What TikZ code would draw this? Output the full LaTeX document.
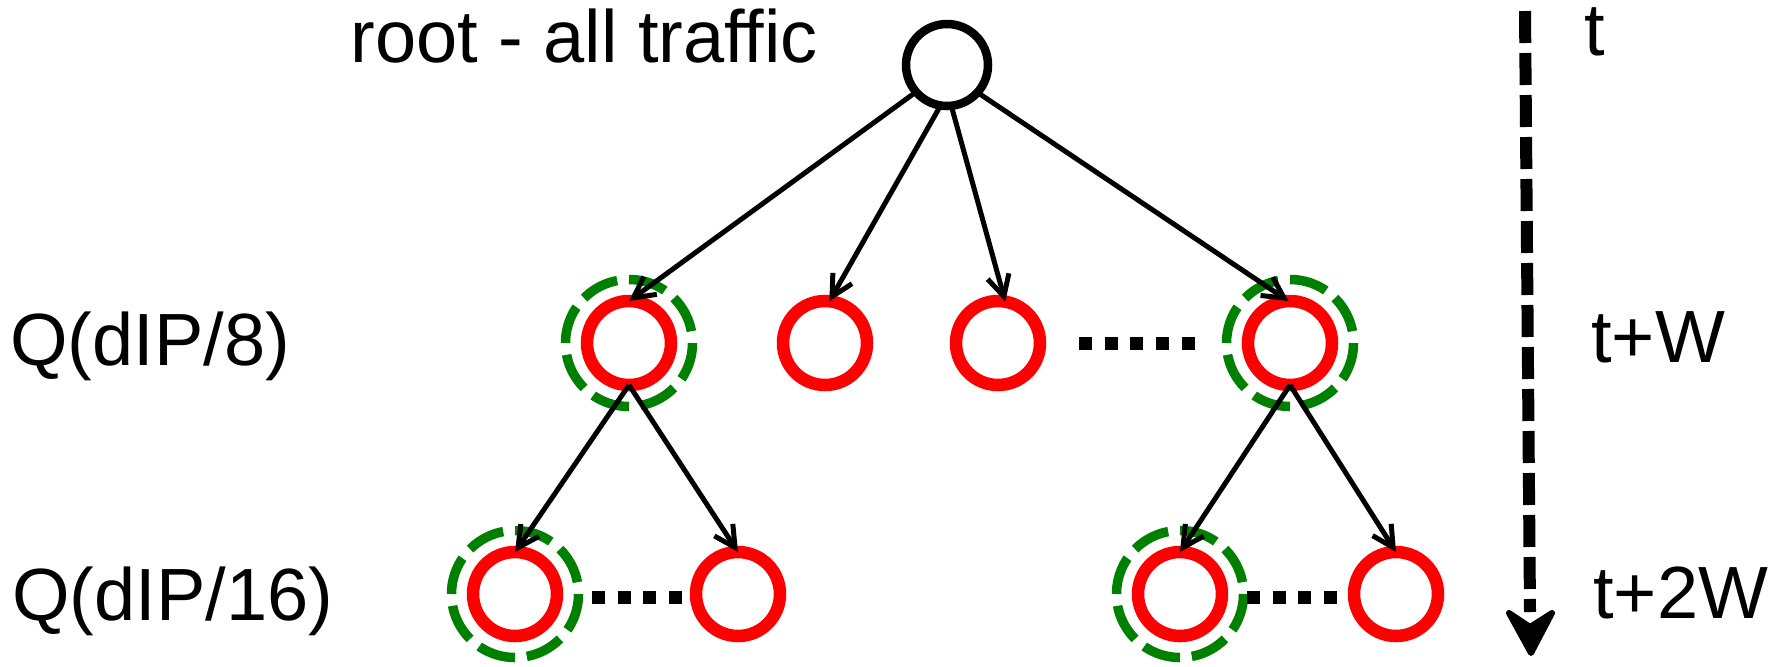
\documentclass[tikz,border=0pt]{standalone}
\usepackage{fontspec}
\setmainfont{Liberation Sans}
\usetikzlibrary{arrows.meta}
\definecolor{ringred}{RGB}{255,0,0}
\definecolor{ringgreen}{RGB}{0,128,0}

\begin{document}
\begin{tikzpicture}[x=0.5pt,y=-0.5pt,
  lbl/.style={font=\fontsize{37}{44}\selectfont, inner sep=0pt, anchor=base west},
  % invisible placeholders; the rings are stroked separately with fixed radii
  slot/.style={circle, minimum size=42pt, inner sep=0pt, outer sep=0pt},
  rootring/.style={draw=black, line width=4.25pt},
  redring/.style={draw=ringred, line width=6.25pt},
  selring/.style={draw=ringgreen, line width=4.75pt, dash pattern=on 19pt off 5.936pt, dash phase=19pt},
  edge/.style={line width=2.5pt, -{Straight Barb[length=10.5pt,width=11pt]}},
  dotline/.style={line width=6.5pt, dash pattern=on 6.5pt off 6.35pt},
  timeline/.style={line width=6pt, dash pattern=on 16pt off 5pt},
  timehead/.style={fill=black, draw=black, line width=3pt, line join=round}]
\useasboundingbox (0,0) rectangle (1787,666);

% tree nodes
\node[slot, minimum size=41pt] (root) at (947,65) {};
\node[slot] (c11) at (629,343) {};
\node[slot] (c12) at (825,343) {};
\node[slot] (c13) at (998,343) {};
\node[slot] (c14) at (1290,343) {};
\node[slot] (c21) at (515,594) {};
\node[slot] (c22) at (738,594) {};
\node[slot] (c23) at (1180,594) {};
\node[slot] (c24) at (1396,594) {};

\draw[rootring] (root.center) circle[radius=20.5pt];
\foreach \n in {c11,c12,c13,c14,c21,c22,c23,c24}
  \draw[redring] (\n.center) circle[radius=21pt];

% selected prefixes
\foreach \n in {c11,c14,c21,c23}
  \draw[selring] (\n.center) circle[radius=31.75pt];

% omitted siblings
\draw[dotline, shorten <=19.5pt, shorten >=26.5pt] (c13.east) -- (c14.west);
\draw[dotline, shorten <=17.5pt, shorten >=7pt] ([yshift=-1.5pt]c21.east) -- ([yshift=-1.5pt]c22.west);
\draw[dotline, shorten <=12.5pt, shorten >=8.5pt] ([yshift=-1.5pt]c23.east) -- ([yshift=-1.5pt]c24.west);

% refinement edges
\draw[edge] (root.221) -- (c11.90);
\draw[edge] (root.261) -- (c12.84);
\draw[edge] (root.276) -- (c13.80);
\draw[edge] (root.318) -- (c14.92);
\draw[edge] (c11.south) -- (c21.north);
\draw[edge] (c11.south) -- (c22.north);
\draw[edge] (c14.south) -- (c23.north);
\draw[edge] (c14.south) -- (c24.north);

% time axis
\coordinate (tTop) at (1525,11);
\coordinate (tEnd) at (1530,612);
\coordinate (tTip) at (1531,653);
\draw[timeline] (tTop) -- (tEnd);
\draw[timehead] (tTip) -- (1509,613) -- (1530,627) -- (1552,613) -- cycle;

% labels
\node[lbl] (lroot) at (350,62) {root - all traffic};
\node[lbl] (lq8) at (10,365) {Q(dIP/8)};
\node[lbl] (lq16) at (12,620) {Q(dIP/16)};
\node[lbl] (lt0) at (1584,55) {t};
\node[lbl] (lt1) at (1591,362) {t+W};
\node[lbl] (lt2) at (1593,618) {t+2W};
\end{tikzpicture}
\end{document}
